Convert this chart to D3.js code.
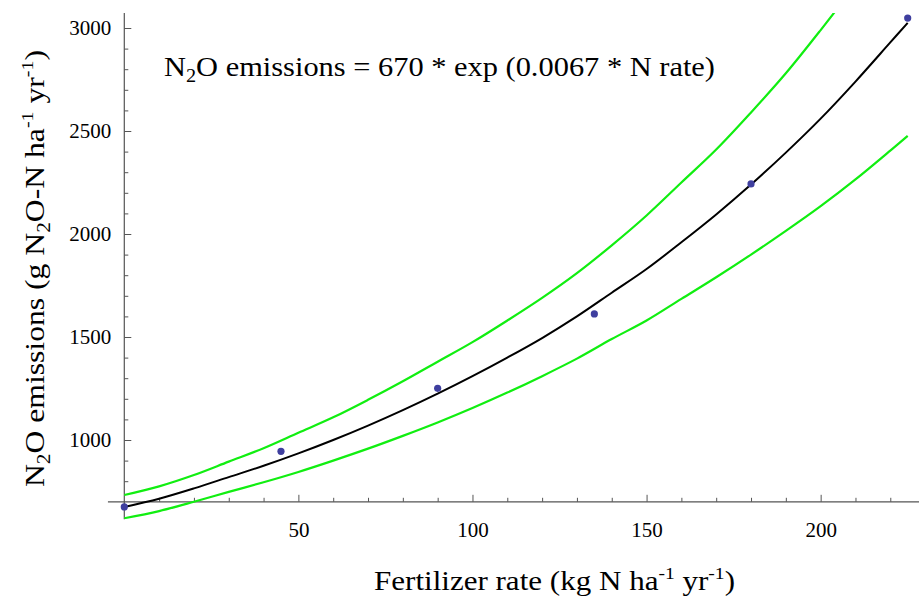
<!DOCTYPE html>
<html>
<head>
<meta charset="utf-8">
<script src="https://cdn.jsdelivr.net/npm/d3@7/dist/d3.min.js"></script>
<style>
  html, body { margin: 0; padding: 0; background: #fff; }
  svg { display: block; }
</style>
</head>
<body>
<svg id="chart" width="919" height="596"></svg>
<script>
// Observed data (fertilizer rate vs N2O emissions)
const obsRate = [0, 45, 90, 135, 180, 225];
const obsEmission = [675, 945, 1251, 1612, 2243, 3048];

// Fitted curve and band
const curveRate = [0, 10, 20, 30, 40, 50, 60, 70, 80, 90, 100, 110, 120, 130, 140, 150, 160, 170, 180, 190, 200, 210, 220, 225];
const fitValues = [675, 715, 765, 820, 875, 935, 1000, 1070, 1145, 1225, 1310, 1400, 1495, 1600, 1715, 1830, 1960, 2095, 2240, 2395, 2560, 2740, 2930, 3025];
const upperValues = [733, 775, 830, 895, 960, 1035, 1110, 1195, 1285, 1380, 1475, 1580, 1690, 1810, 1945, 2090, 2250, 2410, 2590, 2780, 2990, 3210, 3440, 3560];
const lowerValues = [620, 655, 700, 748, 795, 845, 900, 958, 1020, 1085, 1155, 1230, 1310, 1395, 1490, 1580, 1685, 1790, 1900, 2015, 2135, 2265, 2405, 2476];

const xMajor = [50, 100, 150, 200];
const xMinor = [10, 20, 30, 40, 60, 70, 80, 90, 110, 120, 130, 140, 160, 170, 180, 190, 210, 220];
const yMajor = [1000, 1500, 2000, 2500, 3000];
const yMinor = [800, 900, 1100, 1200, 1300, 1400, 1600, 1700, 1800, 1900, 2100, 2200, 2300, 2400, 2600, 2700, 2800, 2900];

const FONT = '"Liberation Serif", "Times New Roman", serif';
const svg = d3.select("#chart");

const x = d3.scaleLinear().domain([0, 225]).range([124.3, 907.7]);
const y = d3.scaleLinear().domain([1000, 3000]).range([440, 28]);
const yOrigin = 700;

const xLo = -4.7, xHi = 228.5, yLo = 615, yHi = 3073;

svg.append("clipPath").attr("id", "clip")
  .append("rect")
  .attr("x", x(xLo)).attr("y", y(yHi))
  .attr("width", x(xHi) - x(xLo)).attr("height", y(yLo) - y(yHi));

// Axis lines
svg.append("line")
  .attr("x1", x(xLo)).attr("x2", x(xHi))
  .attr("y1", y(yOrigin)).attr("y2", y(yOrigin))
  .attr("stroke", "#555").attr("stroke-width", 1.2);
svg.append("line")
  .attr("x1", x(0)).attr("x2", x(0))
  .attr("y1", y(yHi)).attr("y2", y(yLo))
  .attr("stroke", "#555").attr("stroke-width", 1.2);

// X ticks
const gx = svg.append("g").attr("transform", `translate(0,${y(yOrigin)})`);
gx.call(d3.axisBottom(x).tickValues(xMajor).tickSize(-7).tickPadding(20).tickFormat(d3.format("d")));
gx.append("g").call(d3.axisBottom(x).tickValues(xMinor).tickSize(-4).tickFormat(""));
gx.selectAll(".domain").remove();
gx.attr("font-family", FONT);
gx.selectAll("line").attr("stroke", "#555");
gx.selectAll("text").style("font-family", FONT).style("font-size", "21px").attr("fill", "#000");

// Y ticks
const gy = svg.append("g").attr("transform", `translate(${x(0)},0)`);
gy.call(d3.axisLeft(y).tickValues(yMajor).tickSize(-7).tickPadding(13).tickFormat(d3.format("d")));
gy.append("g").call(d3.axisLeft(y).tickValues(yMinor).tickSize(-4).tickFormat(""));
gy.selectAll(".domain").remove();
gy.attr("font-family", FONT);
gy.selectAll("line").attr("stroke", "#555");
gy.selectAll("text").style("font-family", FONT).style("font-size", "21px").attr("fill", "#000");

// Curves
const line = d3.line().x(d => x(d[0])).y(d => y(d[1])).curve(d3.curveCatmullRom);
const plot = svg.append("g").attr("clip-path", "url(#clip)");
plot.append("path").datum(curveRate.map((r, i) => [r, upperValues[i]]))
  .attr("d", line).attr("fill", "none").attr("stroke", "#11ee11").attr("stroke-width", 2.2);
plot.append("path").datum(curveRate.map((r, i) => [r, lowerValues[i]]))
  .attr("d", line).attr("fill", "none").attr("stroke", "#11ee11").attr("stroke-width", 2.2);
plot.append("path").datum(curveRate.map((r, i) => [r, fitValues[i]]))
  .attr("d", line).attr("fill", "none").attr("stroke", "#000").attr("stroke-width", 2);

// Points
svg.append("g").selectAll("circle")
  .data(obsRate.map((r, i) => [r, obsEmission[i]]))
  .join("circle")
  .attr("cx", d => x(d[0])).attr("cy", d => y(d[1])).attr("r", 3.6)
  .attr("fill", "#3f3f9f");

// Equation annotation
const eq = svg.append("text").attr("x", 164).attr("y", 76)
  .style("font-family", FONT).style("font-size", "27px")
  .attr("textLength", 551).attr("lengthAdjust", "spacingAndGlyphs");
eq.append("tspan").text("N");
eq.append("tspan").text("2").style("font-size", "18px").attr("dy", 6);
eq.append("tspan").text("O emissions = 670 * exp (0.0067 * N rate)").attr("dy", -6);

// X axis title
const xt = svg.append("text").attr("x", 374).attr("y", 590)
  .style("font-family", FONT).style("font-size", "27px")
  .attr("textLength", 361).attr("lengthAdjust", "spacingAndGlyphs");
xt.append("tspan").text("Fertilizer rate (kg N ha");
xt.append("tspan").text("-1").style("font-size", "17px").attr("dy", -11);
xt.append("tspan").text(" yr").attr("dy", 11);
xt.append("tspan").text("-1").style("font-size", "17px").attr("dy", -11);
xt.append("tspan").text(")").attr("dy", 11);

// Y axis title
const yt = svg.append("text").attr("transform", "translate(44,487) rotate(-90)")
  .style("font-family", FONT).style("font-size", "27px")
  .attr("textLength", 437).attr("lengthAdjust", "spacingAndGlyphs");
yt.append("tspan").text("N");
yt.append("tspan").text("2").style("font-size", "18px").attr("dy", 6);
yt.append("tspan").text("O emissions (g N").attr("dy", -6);
yt.append("tspan").text("2").style("font-size", "18px").attr("dy", 6);
yt.append("tspan").text("O-N ha").attr("dy", -6);
yt.append("tspan").text("-1").style("font-size", "17px").attr("dy", -11);
yt.append("tspan").text(" yr").attr("dy", 11);
yt.append("tspan").text("-1").style("font-size", "17px").attr("dy", -11);
yt.append("tspan").text(")").attr("dy", 11);
</script>
</body>
</html>
